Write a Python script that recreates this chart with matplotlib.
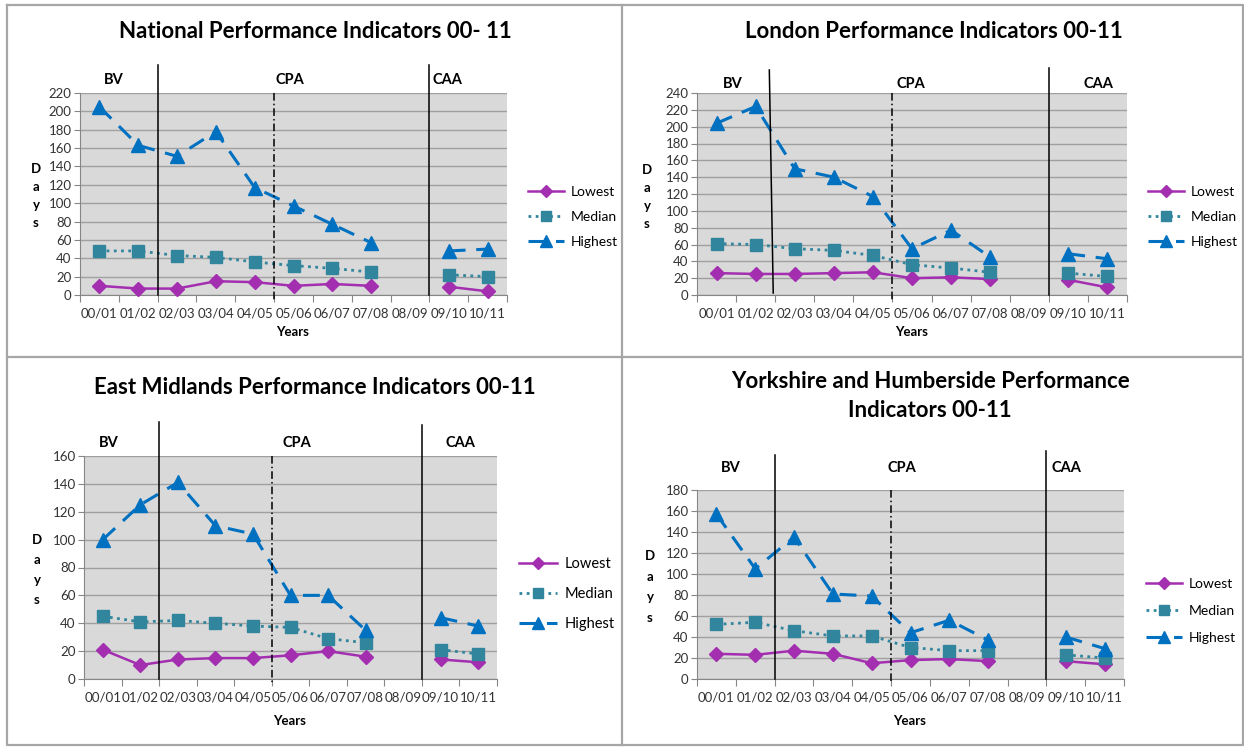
import numpy as np
import matplotlib
matplotlib.use('Agg')
import matplotlib.pyplot as plt
import matplotlib.transforms as mtransforms

plt.rcParams['font.family'] = ['Lato', 'DejaVu Sans']

W, H = 1244, 747
nan = np.nan

years = ['00/01', '01/02', '02/03', '03/04', '04/05', '05/06',
         '06/07', '07/08', '08/09', '09/10', '10/11']
series_names = ['Lowest', 'Median', 'Highest']
periods = ['BV', 'CPA', 'CAA']

national_lowest = [10, 7, 7, 15, 14, 10, 12, 10, nan, 9, 4]
national_median = [48, 48, 43, 41, 36, 32, 29, 25, nan, 22, 20]
national_highest = [205, 163, 151, 178, 117, 97, 77, 57, nan, 48, 50]

london_lowest = [26, 25, 25, 26, 27, 20, 21, 19, nan, 18, 9]
london_median = [61, 60, 55, 53, 47, 36, 32, 27, nan, 26, 22]
london_highest = [204, 224, 150, 140, 117, 55, 77, 45, nan, 49, 43]

em_lowest = [21, 10, 14, 15, 15, 17, 20, 16, nan, 14, 12]
em_median = [45, 41, 42, 40, 38, 37, 29, 26, nan, 21, 18]
em_highest = [100, 125, 141, 110, 104, 60, 60, 35, nan, 44, 38]

yh_lowest = [24, 23, 27, 24, 15, 18, 19, 17, nan, 17, 14]
yh_median = [52, 54, 46, 41, 41, 30, 27, 27, nan, 23, 20]
yh_highest = [157, 105, 135, 81, 79, 44, 56, 37, nan, 40, 29]

# colours / line styles in the excel look
styles = [
    dict(color='#A32FB0', lw=1.8, ls='-', marker='D', ms=7),
    dict(color='#31859C', lw=2.0, ls=(0, (1, 1.6)), marker='s', ms=8.5),
    dict(color='#0070C0', lw=2.2, ls=(0, (5.5, 3.5)), marker='^', ms=10),
]


def fx(x):
    return x / W


def fy(y):
    return 1 - y / H


def draw_panel(fig, p):
    left, top, right, bottom = p['box']
    ax = fig.add_axes([fx(left), fy(bottom), fx(right - left), (bottom - top) / H])
    ax.set_facecolor('#D9D9D9')
    x = np.arange(len(years))
    handles = []
    for vals, st in zip(p['series'], styles):
        h, = ax.plot(x, vals, color=st['color'], lw=st['lw'], ls=st['ls'],
                     marker=st['marker'], ms=st['ms'], mec=st['color'],
                     mfc=st['color'], clip_on=False, zorder=3)
        handles.append(h)
    ax.set_xlim(-0.5, len(years) - 0.5)
    ax.set_ylim(0, p['ymax'])
    ax.set_yticks(np.arange(0, p['ymax'] + 1, 20))
    ax.grid(axis='y', color='#A0A0A0', lw=1)
    ax.set_axisbelow(True)
    for s in ['top', 'right']:
        ax.spines[s].set_visible(False)
    for s in ['left', 'bottom']:
        ax.spines[s].set_color('#868686')
    # category boundaries get the tick marks, centres get the labels
    ax.set_xticks(np.arange(-0.5, len(years)), labels=[''] * (len(years) + 1))
    ax.set_xticks(x, labels=years, minor=True)
    ax.tick_params(axis='x', which='major', length=5, color='#868686')
    ax.tick_params(axis='x', which='minor', length=0, pad=9, labelsize=p['fs'],
                   labelcolor='#333333')
    ax.tick_params(axis='y', length=4, color='#868686', labelsize=p['fs'],
                   labelcolor='#333333', pad=2)

    trans = mtransforms.blended_transform_factory(ax.transData, fig.transFigure)
    (x0, x1), (y0, y1) = p['solid']
    ax.plot([x0, x1], [fy(y0), fy(y1)], color='black', lw=1.1, transform=trans, clip_on=False, zorder=4)
    ax.plot([4.5, 4.5], [fy(top), fy(bottom + 5)], color='black', lw=1.1,
            ls=(0, (5, 2, 1, 2)), transform=trans, clip_on=False, zorder=4)
    ax.plot([8.5, 8.5], [fy(p['caa_top']), fy(bottom)], color='black', lw=1.1,
            transform=trans, clip_on=False, zorder=4)

    for name, (tx, ty) in zip(periods, p['period_pos']):
        fig.text(fx(tx), fy(ty), name, ha='center', va='center', fontsize=10.5, fontweight='bold')

    fig.text(fx(p['title_pos'][0]), fy(p['title_pos'][1]), p['title'], ha='center', va='center',
             fontsize=16, fontweight='bold', linespacing=1.5)
    fig.text(fx(p['years_pos'][0]), fy(p['years_pos'][1]), 'Years', ha='center', va='center',
             fontsize=9.5, fontweight='bold')
    fig.text(fx(p['days_pos'][0]), fy(p['days_pos'][1]), 'D\na\ny\ns', ha='center', va='center',
             fontsize=9.5, fontweight='bold', linespacing=p['days_sp'])

    ax.legend(handles, series_names, loc='center left', frameon=False,
              bbox_to_anchor=(fx(p['legend_pos'][0]), fy(p['legend_pos'][1])),
              bbox_transform=fig.transFigure, borderpad=0, borderaxespad=0,
              handlelength=2.6, handletextpad=0.5, labelspacing=p['leg_sp'],
              fontsize=p['leg_fs'], numpoints=1, markerscale=0.85)
    return ax


panels = [
    dict(title='National Performance Indicators 00- 11', title_pos=(315, 32),
         series=[national_lowest, national_median, national_highest], ymax=220,
         box=(80, 93, 507, 295), solid=((1.5, 1.5), (65, 295)), caa_top=65,
         period_pos=[(114, 80), (290, 80), (447, 80)],
         years_pos=(293, 332), days_pos=(36, 196), days_sp=1.6,
         legend_pos=(528, 217), leg_sp=0.95, leg_fs=10, fs=9.5),
    dict(title='London Performance Indicators 00-11', title_pos=(934, 32),
         series=[london_lowest, london_median, london_highest], ymax=240,
         box=(697, 93, 1127, 295), solid=((1.35, 1.45), (70, 293)), caa_top=68,
         period_pos=[(733, 84), (911, 84), (1098, 84)],
         years_pos=(912, 332), days_pos=(647, 197), days_sp=1.6,
         legend_pos=(1148, 217), leg_sp=0.95, leg_fs=10, fs=9.5),
    dict(title='East Midlands Performance Indicators 00-11', title_pos=(315, 388),
         series=[em_lowest, em_median, em_highest], ymax=160,
         box=(84, 456, 497, 679), solid=((1.5, 1.5), (422, 679)), caa_top=425,
         period_pos=[(109, 443), (297, 443), (460, 443)],
         years_pos=(290, 721), days_pos=(37, 570), days_sp=1.8,
         legend_pos=(519, 594), leg_sp=1.1, leg_fs=10.5, fs=9.6),
    dict(title='Yorkshire and Humberside Performance\nIndicators 00-11', title_pos=(930, 396),
         series=[yh_lowest, yh_median, yh_highest], ymax=180,
         box=(697, 490, 1124, 679), solid=((1.5, 1.5), (455, 679)), caa_top=451,
         period_pos=[(731, 468), (902, 468), (1066, 468)],
         years_pos=(910, 721), days_pos=(650, 587), days_sp=1.85,
         legend_pos=(1146, 611), leg_sp=1.1, leg_fs=10, fs=9.5),
]

fig = plt.figure(figsize=(W / 100, H / 100), dpi=100)

for p in panels:
    draw_panel(fig, p)

# table borders round the four charts
border = dict(color='#A6A6A6', lw=1.6, transform=fig.transFigure)
fig.add_artist(plt.Line2D([fx(7), fx(1243), fx(1243), fx(7), fx(7)],
                          [fy(5), fy(5), fy(745), fy(745), fy(5)], **border))
fig.add_artist(plt.Line2D([fx(622), fx(622)], [fy(5), fy(745)], **border))
fig.add_artist(plt.Line2D([fx(7), fx(1243)], [fy(357), fy(357)], **border))

fig.savefig('out.png', dpi=100)
